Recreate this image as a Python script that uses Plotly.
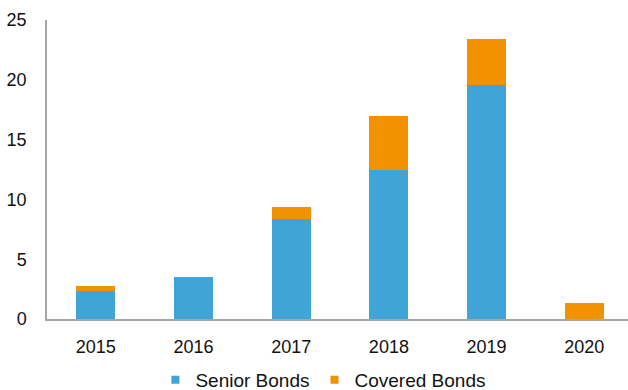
import plotly.graph_objects as go

years = ["2015", "2016", "2017", "2018", "2019", "2020"]
senior_bonds = [2.3, 3.5, 8.4, 12.5, 19.6, 0]
covered_bonds = [0.5, 0, 1.0, 4.5, 3.8, 1.3]

BLUE = "#41A4D8"
ORANGE = "#F39200"
AXIS = "#A6A6A6"
FONT = "Liberation Sans, Arial, sans-serif"

fig = go.Figure()
fig.add_trace(go.Bar(x=years, y=senior_bonds, name="Senior Bonds",
                     marker=dict(color=BLUE, line=dict(width=0)), showlegend=False))
fig.add_trace(go.Bar(x=years, y=covered_bonds, name="Covered Bonds",
                     marker=dict(color=ORANGE, line=dict(width=0)), showlegend=False))

# legend keys drawn as small squares
for name, col in [("Senior Bonds", BLUE), ("Covered Bonds", ORANGE)]:
    fig.add_trace(go.Scatter(x=[None], y=[None], mode="markers", name=name,
                             marker=dict(symbol="square", size=8, color=col)))

fig.update_layout(
    width=628, height=390,
    barmode="stack", bargap=0.6,
    plot_bgcolor="white", paper_bgcolor="white",
    margin=dict(l=46.5, r=0, t=20, b=70.5, autoexpand=False),
    font=dict(family=FONT, size=18, color="#111111"),
    showlegend=True,
    legend=dict(orientation="h", traceorder="normal",
                x=0.515, xanchor="center", xref="container",
                y=1 - 380 / 390, yanchor="middle", yref="container",
                font=dict(size=19), itemwidth=30, tracegroupgap=0),
)
fig.update_xaxes(range=[-0.5, 5.448], showline=True, linecolor=AXIS, linewidth=1.5,
                 showgrid=False, ticks="", ticklabelstandoff=11, type="category")
fig.update_yaxes(range=[0, 25], dtick=5, showline=True, linecolor=AXIS, linewidth=1.5,
                 showgrid=False, zeroline=False, ticks="", ticklabelstandoff=15)

fig.write_html("out.html")
